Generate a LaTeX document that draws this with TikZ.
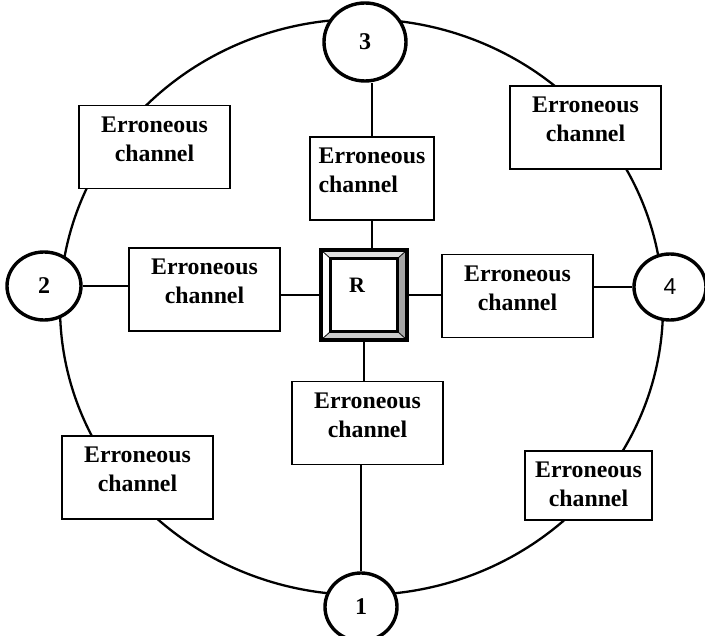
\documentclass[tikz,border=0pt]{standalone}
\usepackage{fontspec}
\setmainfont{Liberation Serif}
\newfontfamily\numfont{Liberation Sans}
\usetikzlibrary{shapes.geometric,calc}

\tikzset{
  ring/.style={draw, line width=3.4pt, ellipse, fill=white, inner sep=0pt,
    font=\fontsize{24}{28}\selectfont\bfseries},
  chan/.style={draw, line width=1.8pt, fill=white, align=center, inner sep=0pt,
    minimum width=151pt, minimum height=83pt, text height=56pt, text depth=27pt,
    font=\fontsize{23.8}{29}\selectfont\bfseries},
  link/.style={line width=1.8pt},
}

\begin{document}
\begin{tikzpicture}[x=1pt, y=-1pt]
	\useasboundingbox (0,0) rectangle (705,636);

	\draw[line width=2.3pt] (361.5,307) ellipse [x radius=301.5pt, y radius=288pt];

	% the four stations on the ring
	\node[ring, minimum width=82pt, minimum height=78pt] (n3) at (365,42) {3};
	\node[ring, minimum width=74pt, minimum height=68pt] (n2) at (44,286) {2};
	\node[ring, minimum width=72pt, minimum height=66pt,
	  font=\fontsize{23}{27}\selectfont\numfont] (n4) at (670,287) {4};
	\node[ring, minimum width=72pt, minimum height=68pt] (n1) at (361,607) {1};

	% channels
	\node[chan] (tl) at (154.5,147) {Erroneous\\channel};
	\node[chan] (tr) at (585.5,127.5) {Erroneous\\channel};
	\node[chan] (bl) at (137.5,477.5) {Erroneous\\channel};
	\node[chan, minimum width=127pt, minimum height=69pt, text depth=13pt] (br) at (588.5,485.5) {Erroneous\\channel};
	\node[chan, minimum width=124pt, align=left] (tc) at (372,178.5) {Erroneous\\channel};
	\node[chan] (bc) at (367.5,423) {Erroneous\\channel};
	\node[chan] (lc) at (204.5,289.5) {Erroneous\\channel};
	\node[chan] (rc) at (517.5,296) {Erroneous\\channel};

	% relay box
	\node[minimum width=86pt, minimum height=90pt, inner sep=0pt] (R) at (364,295) {};
	\coordinate (ri1) at ($(R.north west)+(10,9)$);
	\coordinate (ri2) at ($(R.north east)+(-10,9)$);
	\coordinate (ri3) at ($(R.south east)+(-10,-9)$);
	\coordinate (ri4) at ($(R.south west)+(10,-9)$);
	\fill[gray!25] (R.north west) -- (R.north east) -- (ri2) -- (ri1) -- cycle;
	\fill[gray!70] (R.north east) -- (R.south east) -- (ri3) -- (ri2) -- cycle;
	\fill[gray!40] (R.south east) -- (R.south west) -- (ri4) -- (ri3) -- cycle;
	\draw[line width=0.8pt] (R.north west) -- (ri1) (R.north east) -- (ri2)
	  (R.south east) -- (ri3) (R.south west) -- (ri4);
	\draw[line width=3.5pt] (R.north west) rectangle (R.south east);
	\draw[line width=3pt] (ri1) rectangle (ri3);
	\node[font=\fontsize{22}{26}\selectfont\bfseries] (rlabel) at ($(R.center)+(-7,-10)$) {R};

	\draw[link] (tc.north) -- (tc.north |- n3.south);
	\draw[link] (tc.south) -- (tc.south |- R.north);
	\draw[link] (R.south) -- (R.south |- bc.north);
	\draw[link] (n1.north) -- (n1.north |- bc.south);
	\draw[link] (n2.east) -- (n2.east -| lc.west);
	\draw[link] (R.west) -- (R.west -| lc.east);
	\draw[link] (R.east) -- (R.east -| rc.west);
	\draw[link] (n4.west) -- (n4.west -| rc.east);

\end{tikzpicture}
\end{document}
